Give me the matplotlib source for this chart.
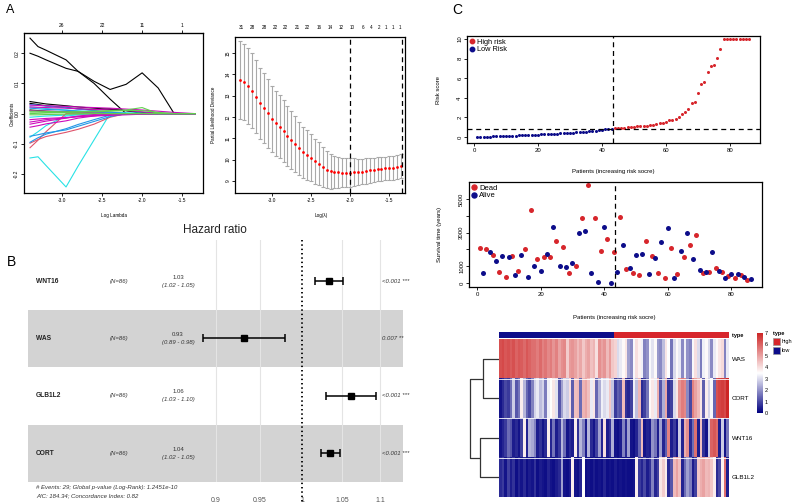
import numpy as np
import matplotlib
matplotlib.use("Agg")
import matplotlib.pyplot as plt
from matplotlib.colors import LinearSegmentedColormap, ListedColormap
from matplotlib.lines import Line2D
from matplotlib.patches import Rectangle
from matplotlib.ticker import NullLocator
from matplotlib.transforms import blended_transform_factory

plt.rcParams["font.family"] = ["Liberation Sans", "DejaVu Sans"]

# ---------------- data: panel A (lasso)
lasso_knots = [-3.4, -3.3, -3.2, -2.95, -2.8, -2.6, -2.4, -2.2, -2.0, -1.8, -1.6, -1.34]
lasso_colors = (["black"] * 5 + ["cyan"] * 4 + ["red"] * 2 + ["blue"] * 4
                + ["magenta"] * 7 + ["green"] * 4)
lasso_coef = [
    [0.250, 0.222, 0.210, 0.178, 0.140, 0.100, 0.048, 0.000, 0, 0, 0, 0],
    [0.200, 0.190, 0.178, 0.150, 0.140, 0.107, 0.080, 0.097, 0.135, 0.085, 0.000, 0],
    [0.040, 0.036, 0.032, 0.026, 0.022, 0.018, 0.014, 0.010, 0.004, 0, 0, 0],
    [0.034, 0.030, 0.026, 0.020, 0.016, 0.012, 0.016, 0.010, 0.000, 0, 0, 0],
    [0.012, 0.010, 0.008, 0.006, 0.004, 0.002, 0.000, 0, 0, 0, 0, 0],
    [-0.147, -0.143, -0.172, -0.243, -0.174, -0.087, 0.000, 0, 0, 0, 0, 0],
    [-0.078, -0.060, -0.040, -0.008, -0.004, 0.000, 0, 0, 0, 0, 0, 0],
    [-0.012, -0.010, -0.008, -0.005, -0.003, -0.001, 0, 0, 0, 0, 0, 0],
    [0.022, 0.020, 0.017, 0.012, 0.009, 0.006, 0.004, 0.003, 0.002, 0.001, 0.0005, 0.0],
    [-0.113, -0.088, -0.060, 0.000, 0, 0, 0, 0, 0, 0, 0, 0],
    [-0.098, -0.086, -0.076, -0.062, -0.052, -0.035, -0.012, 0.000, 0, 0, 0, 0],
    [-0.095, -0.080, -0.068, -0.050, -0.036, -0.020, -0.005, 0, 0, 0, 0, 0],
    [-0.075, -0.070, -0.064, -0.054, -0.042, -0.026, -0.010, 0, 0, 0, 0, 0],
    [0.030, 0.028, 0.025, 0.020, 0.015, 0.010, 0.005, 0.0, 0, 0, 0, 0],
    [0.018, 0.016, 0.014, 0.011, 0.008, 0.005, 0.002, 0, 0, 0, 0, 0],
    [0.028, 0.027, 0.026, 0.024, 0.022, 0.020, 0.018, 0.015, 0.012, 0.008, 0.004, 0.0],
    [0.022, 0.021, 0.020, 0.018, 0.016, 0.014, 0.012, 0.010, 0.006, 0.002, 0.0, 0.0],
    [-0.020, -0.018, -0.016, -0.013, -0.010, -0.008, -0.006, -0.004, -0.002, 0, 0, 0],
    [-0.035, -0.030, -0.025, -0.015, -0.008, -0.003, 0, 0, 0, 0, 0, 0],
    [-0.045, -0.040, -0.034, -0.024, -0.015, -0.008, 0.000, 0, 0, 0, 0, 0],
    [-0.028, -0.024, -0.020, -0.014, -0.010, -0.006, -0.003, 0, 0, 0, 0, 0],
    [0.010, 0.009, 0.008, 0.006, 0.004, 0.002, 0, 0, 0, 0, 0, 0],
    [0.000, 0.001, 0.002, 0.004, 0.006, 0.008, 0.010, 0.012, 0.020, 0.000, 0, 0],
    [0.005, 0.005, 0.004, 0.003, 0.002, 0.001, 0.0, 0, 0, 0, 0, 0],
    [-0.004, -0.004, -0.003, -0.002, -0.001, 0, 0, 0, 0, 0, 0, 0],
    [0.008, 0.008, 0.007, 0.006, 0.006, 0.006, 0.008, 0.010, 0.010, 0.004, 0, 0],
]
lasso_top_labels = ["26", "22", "11", "1"]

cv_loglambda = [-3.40, -3.35, -3.30, -3.25, -3.20, -3.15, -3.10, -3.05, -3.00, -2.95,
                -2.90, -2.85, -2.80, -2.75, -2.70, -2.65, -2.60, -2.55, -2.50, -2.45,
                -2.40, -2.35, -2.30, -2.25, -2.20, -2.15, -2.10, -2.05, -2.00, -1.95,
                -1.90, -1.85, -1.80, -1.75, -1.70, -1.65, -1.60, -1.55, -1.50, -1.45,
                -1.40, -1.35]
cv_mean = [13.73, 13.64, 13.45, 13.23, 12.95, 12.64, 12.40, 12.17, 11.90, 11.71,
           11.54, 11.34, 11.10, 10.92, 10.73, 10.53, 10.34, 10.21, 10.10, 9.93,
           9.82, 9.66, 9.54, 9.47, 9.43, 9.41, 9.40, 9.40, 9.40, 9.41,
           9.42, 9.44, 9.47, 9.50, 9.53, 9.56, 9.58, 9.59, 9.60, 9.62,
           9.65, 9.70]
cv_se = [1.82, 1.80, 1.78, 1.75, 1.72, 1.68, 1.64, 1.60, 1.56, 1.52,
         1.48, 1.44, 1.40, 1.36, 1.31, 1.26, 1.21, 1.16, 1.11, 1.06,
         1.01, 0.95, 0.88, 0.82, 0.76, 0.72, 0.69, 0.67, 0.66, 0.65,
         0.62, 0.60, 0.59, 0.58, 0.57, 0.57, 0.56, 0.56, 0.56, 0.56,
         0.56, 0.56]
cv_nonzero = ["31", "28", "28", "22", "22", "21", "22", "16", "14", "12",
              "10", "6", "4", "2", "1", "1", "1"]
cv_nonzero_at = [-3.39, -3.25, -3.10, -2.96, -2.82, -2.68, -2.54, -2.40, -2.26,
                 -2.12, -1.97, -1.83, -1.73, -1.63, -1.54, -1.45, -1.37]
lambda_min = -2.0
lambda_1se = -1.34

# ---------------- data: panel B (forest)
forest_genes = ["WNT16", "WAS", "GLB1L2", "CORT"]
forest_n = [86, 86, 86, 86]
forest_hr = [1.033, 0.932, 1.061, 1.035]
forest_lo = [1.016, 0.886, 1.030, 1.024]
forest_hi = [1.051, 0.980, 1.095, 1.047]
forest_hr_text = ["1.03", "0.93", "1.06", "1.04"]
forest_ci_text = ["(1.02 - 1.05)", "(0.89 - 0.98)", "(1.03 - 1.10)", "(1.02 - 1.05)"]
forest_p_text = ["<0.001 ***", "0.007 **", "<0.001 ***", "<0.001 ***"]
forest_ticks = [0.9, 0.95, 1, 1.05, 1.1]
forest_footer = ["# Events: 29; Global p-value (Log-Rank): 1.2451e-10",
                 "AIC: 184.34; Concordance Index: 0.82"]

# ---------------- data: panel C
risk_score = [0.02, 0.03, 0.04, 0.05, 0.06, 0.07, 0.08, 0.09, 0.10, 0.11,
              0.12, 0.14, 0.15, 0.17, 0.18, 0.20, 0.21, 0.23, 0.24, 0.26,
              0.27, 0.29, 0.30, 0.32, 0.33, 0.35, 0.37, 0.39, 0.41, 0.43,
              0.45, 0.48, 0.50, 0.53, 0.56, 0.59, 0.62, 0.65, 0.69, 0.74,
              0.78, 0.82, 0.85,
              0.88, 0.91, 0.94, 0.97, 1.00, 1.03, 1.06, 1.09, 1.12, 1.15,
              1.18, 1.21, 1.25, 1.30, 1.45, 1.48, 1.50, 1.72, 1.75, 1.85,
              2.05, 2.35, 2.55, 2.90, 3.45, 3.62, 4.50, 5.40, 5.65, 6.60,
              7.25, 7.35, 8.05, 8.95,
              10, 10, 10, 10, 10, 10, 10, 10, 10]
risk_cutoff = 0.865

surv_time = [2110, 600, 2030, 1850, 1690, 1290, 660, 1590, 360, 1550,
             1590, 480, 700, 1690, 2030, 340, 4340, 1000, 1450, 740,
             1530, 1730, 1570, 3360, 2510, 1000, 2150, 955, 600, 1190,
             1030, 2950, 3840, 3080, 5830, 620, 3880, 60, 1890, 3360,
             2590, 0, 1830, 660, 3940, 2250, 840, 900, 580, 1690,
             460, 1730, 2510, 540, 1630, 1510, 600, 2450, 320, 3260,
             2090, 280, 540, 1890, 1570, 2990, 2250, 1430, 2870, 760,
             600, 660, 640, 1850, 900, 740, 660, 280, 420, 520,
             280, 520, 500, 380, 180, 260]
surv_dead = [1, 0] * 43

heat_genes = ["WAS", "CORT", "WNT16", "GLB1L2"]
heat_was = [6.3, 6.4, 6.2, 6.3, 6.1, 6.3, 6.0, 6.2, 6.1, 5.9, 6.2, 6.0, 5.8,
            5.8, 5.6, 5.9, 5.5, 5.7,
            5.4, 5.6, 5.2, 5.5, 5.0, 5.3, 5.4, 4.3, 5.1, 5.2,
            5.0, 4.6, 4.9, 4.4, 4.8, 5.0, 4.5, 4.7,
            4.0, 5.3, 5.0, 5.2, 4.6, 5.1, 4.4,
            4.2, 3.0, 3.2, 3.6, 3.9, 2.2, 1.9, 3.4, 4.0, 3.7, 3.3, 1.8, 2.0, 3.4,
            3.1, 3.6, 2.1, 1.9, 2.6, 3.9, 3.5, 1.6, 3.0, 3.6, 3.2, 1.9, 3.3, 2.0,
            1.8, 3.4, 4.0, 3.0, 1.7, 3.3, 3.6, 3.0, 1.9, 3.2, 3.6, 3.9, 4.1, 1.8, 3.2]
heat_cort = [0.3, 0.6, 1.0, 0.8, 1.5, 2.8, 1.2, 1.6, 3.8, 2.5,
             1.4, 1.0, 1.8, 2.9, 3.2, 2.6, 2.9, 1.7, 3.3, 3.5,
             3.9, 3.1, 1.2, 2.2, 3.0, 2.8, 4.0, 1.3, 4.5, 4.6,
             1.5, 4.7, 4.9, 4.5, 3.2, 3.9, 1.4, 2.4, 3.3, 3.0,
             3.2, 4.4, 2.7, 0.8, 1.3, 1.1, 4.6, 0.7, 0.5, 0.9,
             3.3, 2.6, 4.7, 0.6, 0.9, 1.6, 3.6, 3.9, 3.2, 4.8,
             1.2, 2.4, 4.9, 0.7, 0.9, 3.0, 3.9, 5.2, 5.6, 5.4,
             1.9, 1.0, 5.5, 5.0, 4.6, 3.9, 1.3, 3.8, 2.9, 3.4,
             1.4, 6.3, 6.5, 6.6, 6.4, 7.0]
heat_wnt16 = [0.3, 0.5, 0.8, 1.5, 1.2, 0.4, 0.6, 0.3, 0.9, 3.8,
              0.5, 2.5, 2.3, 1.8, 0.4, 0.7, 0.3, 0.6, 3.8, 0.5,
              1.6, 0.4, 0.8, 2.5, 1.5, 0.3, 0.6, 0.4, 3.8, 0.7,
              2.5, 1.8, 0.4, 2.5, 0.6, 0.3, 0.9, 2.2, 0.5, 4.0,
              0.4, 0.7, 2.4, 0.3, 0.2, 0.4, 1.8, 0.6, 2.2, 0.3,
              0.2, 0.5, 1.4, 4.6, 0.3, 0.5, 0.4, 2.0, 1.6, 0.4,
              2.2, 0.5, 1.3, 5.5, 0.4, 0.8, 0.3, 2.8, 0.5, 4.8,
              5.3, 0.6, 1.5, 5.8, 0.4, 4.5, 0.7, 0.3, 2.8, 6.0,
              6.2, 5.9, 0.4, 2.8, 0.3, 1.6]
heat_glb1l2 = [0.6, 0.8, 0.3, 0.9, 0.4, 0.7, 0.2, 0.5, 0.3, 0.6,
               0.2, 0.4, 0.3, 0.7, 0.2, 0.4, 0.3, 0.2, 0.5, 0.3,
               0.2, 0.4, 0.6, 2.2, 0.3, 0.2, 0.4, 3.8, 0.3, 0.2,
               0.5, 3.5, 0.2, 0.3, 0.2, 0.4, 0.2, 0.3, 0.2, 0.5,
               0.2, 0.3, 0.2, 0.4, 0.2, 0.3, 0.2, 0.3, 0.2, 0.2,
               0.3, 3.8, 0.8, 0.5, 1.0, 0.4, 0.7, 1.8, 0.5, 0.9,
               3.9, 4.3, 3.8, 0.6, 1.2, 4.6, 5.0, 4.5, 0.5, 1.5,
               2.2, 1.7, 0.4, 0.9, 4.4, 4.8, 5.0, 4.6, 4.7, 4.4,
               3.8, 0.6, 1.0, 3.7, 5.8, 0.4]
dendro_heights = [16, 19, 29]  # WAS+CORT, WNT16+GLB1L2, root

# ---------------- layout helpers (pixel boxes on a 793x504 canvas)
W, H = 793, 504
R_COLORS = {"black": "#000000", "red": "#DF536B", "green": "#61D04F",
            "blue": "#2297E6", "cyan": "#28E2E5", "magenta": "#CD0BBC"}
RED = "#D7262C"
NAVY = "#0D0D8A"


def px_box(x0, y0, x1, y1):
    return [x0 / W, 1 - y1 / H, (x1 - x0) / W, (y1 - y0) / H]


def fx(x):
    return x / W


def fy(y):
    return 1 - y / H


def r_style(ax, fs=3.5):
    for s in ax.spines.values():
        s.set_linewidth(0.9)
    ax.tick_params(direction="out", length=2.2, width=0.6, labelsize=fs, pad=1.2)
    plt.setp(ax.get_yticklabels(), rotation=90, va="center")


fig = plt.figure(figsize=(W / 100, H / 100), dpi=100, facecolor="white")

fig.text(fx(10), fy(10), "A", fontsize=9, ha="center", va="center")
fig.text(fx(11), fy(262), "B", fontsize=10, ha="center", va="center")
fig.text(fx(457), fy(10), "C", fontsize=10, ha="center", va="center")

# ---------------- A: coefficient paths
ax = fig.add_axes(px_box(24, 33, 203, 193))
for color, values in zip(lasso_colors, lasso_coef):
    ax.plot(lasso_knots, values, color=R_COLORS[color], lw=0.8)
ax.set_xlim(-3.475, -1.24)
ax.set_ylim(-0.263, 0.267)
ax.set_xticks([-3.0, -2.5, -2.0, -1.5], labels=["-3.0", "-2.5", "-2.0", "-1.5"])
ax.set_yticks([-0.2, -0.1, 0.0, 0.1, 0.2], labels=["-0.2", "-0.1", "0.0", "0.1", "0.2"])
r_style(ax)
top = ax.secondary_xaxis("top")
top.set_xticks([-3.0, -2.5, -2.0, -1.5], labels=lasso_top_labels)
top.tick_params(direction="out", length=2.2, width=0.6, labelsize=3.5, pad=1.2)
fig.text(fx(12), fy(114), "Coefficients", fontsize=3.3, rotation=90, ha="center", va="center")
fig.text(fx(114), fy(215), "Log Lambda", fontsize=3.3, ha="center", va="center")

# ---------------- A: cross validation
ax = fig.add_axes(px_box(235, 37, 405, 193))
ax.errorbar(cv_loglambda, cv_mean, yerr=cv_se, fmt="none", ecolor="#A9A9A9",
            elinewidth=0.8, capsize=1.2, capthick=0.8)
ax.plot(cv_loglambda, cv_mean, "o", color="red", ms=2.0, mec="none")
for v in [lambda_min, lambda_1se]:
    ax.axvline(v, color="black", lw=0.9, ls=(0, (4, 3)))
ax.set_xlim(-3.47, -1.30)
ax.set_ylim(8.44, 15.75)
ax.set_xticks([-3.0, -2.5, -2.0, -1.5], labels=["-3.0", "-2.5", "-2.0", "-1.5"])
ax.set_yticks(range(9, 16), labels=[str(v) for v in range(9, 16)])
r_style(ax)
tr = blended_transform_factory(ax.transData, ax.transAxes)
for pos, lab in zip(cv_nonzero_at, cv_nonzero):
    ax.text(pos, 1.064, lab, transform=tr, fontsize=3.3, ha="center", va="center")
fig.text(fx(213), fy(115), "Partial Likelihood Deviance", fontsize=3.3, rotation=90,
         ha="center", va="center")
fig.text(fx(321), fy(215), "Log(λ)", fontsize=3.3, ha="center", va="center")

# ---------------- B: forest plot
axf = fig.add_axes(px_box(28, 240, 403, 482))
axf.set_xscale("log")
axf.set_xlim(0.716, 1.131)
axf.set_ylim(3.5, -0.716)
rows = np.arange(len(forest_genes))
for i in rows:
    if i % 2 == 1:
        axf.axhspan(i - 0.5, i + 0.5, color="#D3D3D3", lw=0, zorder=0)
for t in forest_ticks:
    if t != 1:
        axf.plot([t, t], [-0.716, 3.5], color="#E4E4E4", lw=0.8, zorder=1)
axf.plot([1, 1], [-0.716, 3.95], color="black", lw=1.3, ls=(0, (0.8, 1.6)),
         clip_on=False, zorder=2)
hr = np.array(forest_hr)
axf.errorbar(hr, rows, xerr=[hr - np.array(forest_lo), np.array(forest_hi) - hr],
             fmt="s", color="black", ms=5, elinewidth=1.1, capsize=3, capthick=1.1,
             zorder=3)
axf.set_xticks(forest_ticks, labels=["0.9", "0.95", "1", "1.05", "1.1"])
axf.xaxis.set_minor_locator(NullLocator())
axf.tick_params(axis="x", length=0, pad=11, labelsize=5, labelcolor="#555555")
axf.set_yticks([])
for s in axf.spines.values():
    s.set_visible(False)

tf = blended_transform_factory(fig.transFigure, axf.transData)
for i, gene in enumerate(forest_genes):
    axf.text(fx(36), i, gene, transform=tf, fontsize=4.8, fontweight="bold",
             ha="left", va="center", color="#222222")
    axf.text(fx(110), i, "(N=%d)" % forest_n[i], transform=tf, fontsize=4.3,
             style="italic", ha="left", va="center", color="#333333")
    axf.text(fx(178), i - 0.07, forest_hr_text[i], transform=tf, fontsize=4.3,
             ha="center", va="center", color="#333333")
    axf.text(fx(178), i + 0.07, forest_ci_text[i], transform=tf, fontsize=4.3,
             style="italic", ha="center", va="center", color="#333333")
    axf.text(fx(382), i, forest_p_text[i], transform=tf, fontsize=4.3,
             style="italic", ha="left", va="center", color="#333333")
fig.text(fx(215), fy(230), "Hazard ratio", fontsize=8.5, ha="center", va="center",
         color="#222222")
fig.text(fx(36), fy(487), forest_footer[0], fontsize=4.3, style="italic",
         ha="left", va="center", color="#333333")
fig.text(fx(36), fy(496), forest_footer[1], fontsize=4.3, style="italic",
         ha="left", va="center", color="#333333")

# ---------------- C: risk score
patients = np.arange(1, len(risk_score) + 1)
high = np.array(risk_score) > risk_cutoff
n_low = int((~high).sum())

ax = fig.add_axes(px_box(467, 36, 760, 143))
ax.plot(patients[high], np.array(risk_score)[high], "o", color=RED, ms=2.2, mec="none")
ax.plot(patients[~high], np.array(risk_score)[~high], "o", color=NAVY, ms=2.2, mec="none")
ax.axvline(n_low + 0.5, color="black", lw=0.9, ls=(0, (4, 3)))
ax.axhline(risk_cutoff, color="black", lw=0.9, ls=(0, (4, 3)))
ax.set_xlim(-2.2, 89.4)
ax.set_ylim(-0.6, 10.3)
ax.set_xticks([0, 20, 40, 60, 80], labels=["0", "20", "40", "60", "80"])
ax.set_yticks([0, 2, 4, 6, 8, 10], labels=["0", "2", "4", "6", "8", "10"])
r_style(ax, fs=4.3)
ax.legend(handles=[Line2D([], [], ls="none", marker="o", color=RED, ms=3.2, label="High risk"),
                   Line2D([], [], ls="none", marker="o", color=NAVY, ms=3.2, label="Low Risk")],
          loc="upper left", frameon=False, fontsize=5.3, handlelength=0.6,
          handletextpad=0.4, labelspacing=0.05, borderaxespad=0.15, borderpad=0.2)
fig.text(fx(438), fy(90), "Risk score", fontsize=4.3, rotation=90, ha="center", va="center")
fig.text(fx(613), fy(171), "Patients (increasing risk socre)", fontsize=4.3,
         ha="center", va="center")

# ---------------- C: survival time
dead = np.array(surv_dead) == 1
ax = fig.add_axes(px_box(469, 182, 762, 287))
ax.plot(patients[dead], np.array(surv_time)[dead], "o", color=RED, ms=3.6, mec="none")
ax.plot(patients[~dead], np.array(surv_time)[~dead], "o", color=NAVY, ms=3.6, mec="none")
ax.axvline(n_low + 0.5, color="black", lw=0.9, ls=(0, (4, 3)))
ax.set_xlim(-2.5, 89.6)
ax.set_ylim(-240, 6012)
ax.set_xticks([0, 20, 40, 60, 80], labels=["0", "20", "40", "60", "80"])
ax.set_yticks([0, 1000, 2000, 3000, 4000, 5000],
              labels=["0", "1000", "", "3000", "", "5000"])
r_style(ax, fs=4.3)
ax.legend(handles=[Line2D([], [], ls="none", marker="o", color=RED, ms=3.6, label="Dead"),
                   Line2D([], [], ls="none", marker="o", color=NAVY, ms=3.6, label="Alive")],
          loc="upper left", frameon=False, fontsize=5.5, handlelength=0.6,
          handletextpad=0.4, labelspacing=0.0, borderaxespad=0.15, borderpad=0.2)
fig.text(fx(440), fy(234), "Survival time (years)", fontsize=4.3, rotation=90,
         ha="center", va="center")
fig.text(fx(614), fy(317), "Patients (increasing risk socre)", fontsize=4.3,
         ha="center", va="center")

# ---------------- C: heatmap
heat_cmap = LinearSegmentedColormap.from_list("nwf", ["#000080", "white", "#CD2626"])
heat = np.array([heat_was, heat_cort, heat_wnt16, heat_glb1l2])
axh = fig.add_axes(px_box(499, 339, 729, 497))
im = axh.imshow(heat, aspect="auto", cmap=heat_cmap, vmin=0, vmax=7,
                interpolation="nearest")
for y in [0.5, 1.5, 2.5]:
    axh.axhline(y, color="white", lw=0.6)
axh.set_xticks([])
axh.yaxis.tick_right()
axh.set_yticks(range(len(heat_genes)), labels=heat_genes)
axh.tick_params(axis="y", length=0, labelsize=4.5, pad=2)
for s in axh.spines.values():
    s.set_visible(False)

axt = fig.add_axes(px_box(499, 332, 729, 338))
axt.imshow([high.astype(int)], aspect="auto", cmap=ListedColormap([NAVY, RED]),
           vmin=0, vmax=1, interpolation="nearest")
axt.set_xticks([])
axt.yaxis.tick_right()
axt.set_yticks([0], labels=["type"])
axt.tick_params(axis="y", length=0, labelsize=4, pad=2)
for lab in axt.get_yticklabels():
    lab.set_fontweight("bold")
for s in axt.spines.values():
    s.set_visible(False)

# dendrogram
axd = fig.add_axes(px_box(468, 339, 499, 497))
h1, h2, h3 = dendro_heights
seg_kw = dict(color="#333333", lw=0.9, solid_capstyle="butt")
axd.plot([0, h1, h1, 0], [0, 0, 1, 1], **seg_kw)
axd.plot([0, h2, h2, 0], [2, 2, 3, 3], **seg_kw)
axd.plot([h1, h3, h3, h2], [0.5, 0.5, 2.5, 2.5], **seg_kw)
axd.set_xlim(31, 0)
axd.set_ylim(3.5, -0.5)
axd.axis("off")

# colour key
axc = fig.add_axes(px_box(757, 333, 763, 413))
cb = fig.colorbar(im, cax=axc, ticks=range(8))
cb.outline.set_visible(False)
axc.tick_params(labelsize=4, length=0, pad=1.5)

fig.text(fx(773), fy(334), "type", fontsize=4, fontweight="bold", ha="left", va="center")
for y0, col, lab in [(338, RED, "high"), (346.5, NAVY, "low")]:
    fig.add_artist(Rectangle((fx(773), fy(y0 + 7)), 7 / W, 7 / H, transform=fig.transFigure,
                             facecolor=col, edgecolor="#999999", lw=0.5))
    fig.text(fx(782), fy(y0 + 3.5), lab, fontsize=4, ha="left", va="center")

fig.savefig("out.png", dpi=100, facecolor="white")
